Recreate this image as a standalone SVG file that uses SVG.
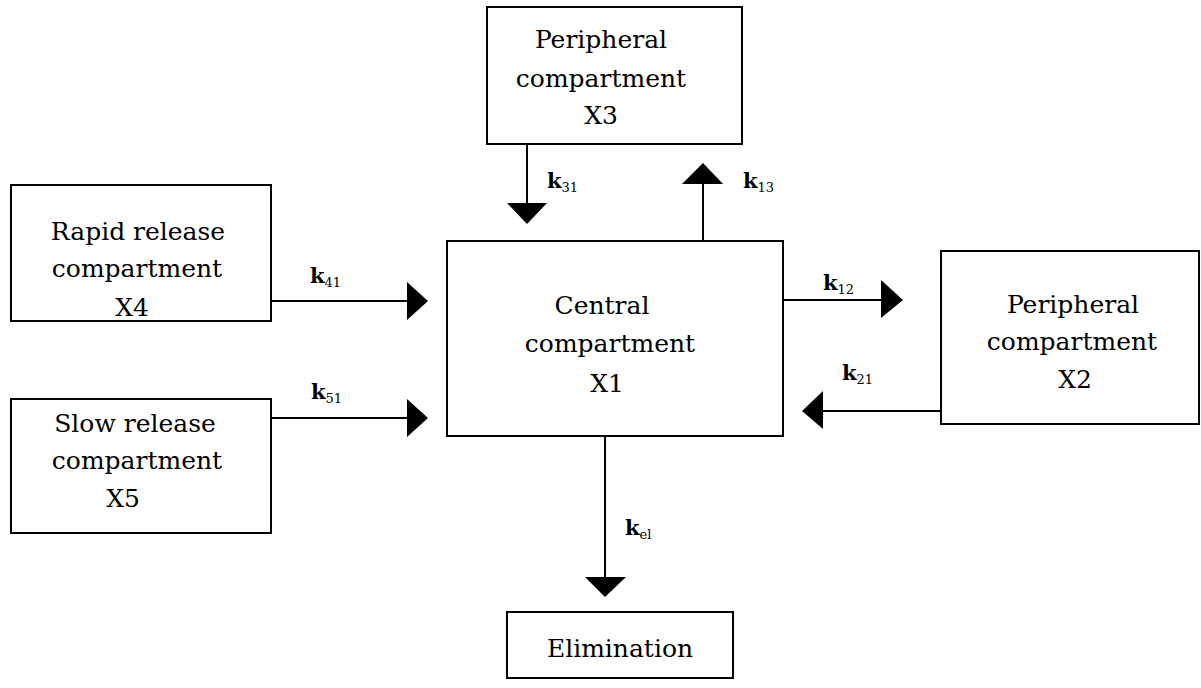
<svg xmlns="http://www.w3.org/2000/svg" width="1201" height="688" viewBox="0 0 1201 688">
<style>
.box{fill:#fff;stroke:#000;stroke-width:2}
.t{font-family:"DejaVu Serif","Liberation Serif",serif;font-size:25px;fill:#000;text-anchor:middle}
.k{font-family:"DejaVu Serif","Liberation Serif",serif;font-size:21px;font-weight:bold;fill:#000}
.k tspan{font-size:13px;font-weight:normal}
.c{stroke:#000;stroke-width:2;fill:none}
.h{fill:#000}
</style>
<rect width="1201" height="688" fill="#fff"/>
<g id="x3">
<rect class="box" x="487" y="7" width="255" height="137"/>
<text class="t" x="601" y="48">Peripheral</text>
<text class="t" x="601" y="87">compartment</text>
<text class="t" x="601" y="124">X3</text>
</g>
<g id="x4">
<rect class="box" x="11" y="185" width="260" height="136"/>
<text class="t" x="138" y="240">Rapid release</text>
<text class="t" x="137" y="277">compartment</text>
<text class="t" x="132" y="316">X4</text>
</g>
<g id="x5">
<rect class="box" x="11" y="399" width="260" height="134"/>
<text class="t" x="135" y="432">Slow release</text>
<text class="t" x="137" y="469">compartment</text>
<text class="t" x="123" y="507">X5</text>
</g>
<g id="x1">
<rect class="box" x="447" y="241" width="336" height="195"/>
<text class="t" x="602" y="314">Central</text>
<text class="t" x="610" y="352">compartment</text>
<text class="t" x="607" y="392">X1</text>
</g>
<g id="x2">
<rect class="box" x="941" y="251" width="258" height="173"/>
<text class="t" x="1073" y="313">Peripheral</text>
<text class="t" x="1072" y="350">compartment</text>
<text class="t" x="1075" y="388">X2</text>
</g>
<g id="elim">
<rect class="box" x="507" y="612" width="226" height="66"/>
<text class="t" x="620" y="657">Elimination</text>
</g>
<g id="connectors">
<line class="c" x1="527" y1="144" x2="527" y2="205"/>
<polygon class="h" points="507,203 547,203 527,224"/>
<text class="k" x="547" y="188">k<tspan dy="4">31</tspan></text>
<line class="c" x1="703" y1="241" x2="703" y2="182"/>
<polygon class="h" points="682,184 723,184 703,163"/>
<text class="k" x="743" y="188">k<tspan dy="4">13</tspan></text>
<line class="c" x1="271" y1="301" x2="409" y2="301"/>
<polygon class="h" points="407,282 407,320 428,301"/>
<text class="k" x="310" y="283">k<tspan dy="4">41</tspan></text>
<line class="c" x1="271" y1="418" x2="409" y2="418"/>
<polygon class="h" points="407,399 407,437 428,418"/>
<text class="k" x="311" y="399">k<tspan dy="4">51</tspan></text>
<line class="c" x1="783" y1="300" x2="883" y2="300"/>
<polygon class="h" points="881,280 881,318 903,300"/>
<text class="k" x="823" y="290">k<tspan dy="4">12</tspan></text>
<line class="c" x1="941" y1="411" x2="821" y2="411"/>
<polygon class="h" points="823,391 823,429 802,411"/>
<text class="k" x="842" y="380">k<tspan dy="4">21</tspan></text>
<line class="c" x1="605" y1="436" x2="605" y2="579"/>
<polygon class="h" points="585,577 626,577 605,597"/>
<text class="k" x="625" y="535">k<tspan dy="4">el</tspan></text>
</g>
</svg>
